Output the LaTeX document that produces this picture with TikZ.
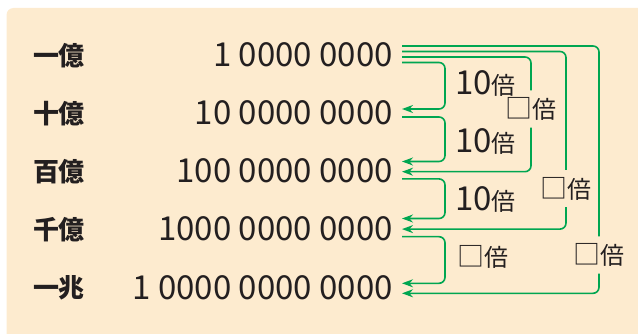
\documentclass[tikz,border=0pt]{standalone}
\usepackage{fontspec}
\newfontfamily\jp{Noto Sans CJK JP}
\usetikzlibrary{arrows.meta}
\definecolor{paper}{RGB}{253,235,207}
\definecolor{ink}{RGB}{35,31,32}
\definecolor{leaf}{RGB}{0,166,81}
% sizes of the parts of the ratio labels
\newcommand\tenpart[1]{{\fontsize{33}{33}\selectfont #1}}
\newcommand\baipart[1]{{\fontsize{24}{24}\selectfont #1}}
\newcommand\boxpart{{\fontsize{27}{27}\selectfont □}}
\begin{document}
\begin{tikzpicture}[x=1pt,y=-1pt,
  unit/.style={font=\jp\bfseries\fontsize{26}{26}\selectfont, text=ink, inner sep=0pt},
  num/.style={font=\jp\fontsize{33}{33}\selectfont, text=ink, inner sep=0pt, anchor=east},
  conn/.style={draw=leaf, line width=1.6pt, rounded corners=6pt},
  arr/.style={-{Stealth[length=11pt,width=8pt]}},
  ratio/.style={font=\jp, text=ink, inner sep=0pt},
  gapratio/.style={ratio, minimum height=37pt, minimum width=44pt}]
\clip (0,0) rectangle (638,334);
\fill[paper, rounded corners=7pt] (6.5,8) rectangle (700,400);

% place-value names
\node[unit] (u1) at (59,55.5)  {一億};
\node[unit] (u2) at (59,113.7) {十億};
\node[unit] (u3) at (59,171.9) {百億};
\node[unit] (u4) at (59,230.1) {千億};
\node[unit] (u5) at (59,288.3) {一兆};

% the numbers, right aligned
\node[num] (n1) at (393,54.5)  {1 0000 0000};
\node[num] (n2) at (393,112.7) {10 0000 0000};
\node[num] (n3) at (393,170.9) {100 0000 0000};
\node[num] (n4) at (393,229.1) {1000 0000 0000};
\node[num] (n5) at (393,287.3) {1 0000 0000 0000};

% ratio labels
\node[ratio, anchor=base west] (t1) at (455,95)  {\tenpart{10}\baipart{倍}};
\node[ratio, anchor=base west] (t2) at (455,153) {\tenpart{10}\baipart{倍}};
\node[ratio, anchor=base west] (t3) at (455,211) {\tenpart{10}\baipart{倍}};
\node[ratio] (t4) at (483,257) {\boxpart\baipart{倍}};
\node[gapratio] (q1) at (531,109)   {\boxpart\baipart{倍}};
\node[gapratio] (q2) at (566,188.5) {\boxpart\baipart{倍}};
\node[gapratio] (q3) at (599,255)   {\boxpart\baipart{倍}};

% step-by-step arrows
\draw[conn,arr] ([xshift=9pt,yshift=-8pt]n1.east) -- ++(43,0) |- ([xshift=9pt,yshift=3.7pt]n2.east);
\draw[conn,arr] ([xshift=9pt,yshift=-4.3pt]n2.east) -- ++(43,0) |- ([xshift=9pt,yshift=9.4pt]n3.east);
\draw[conn,arr] ([xshift=9pt,yshift=-8pt]n3.east) -- ++(43,0) |- ([xshift=9pt,yshift=10.6pt]n4.east);
\draw[conn,arr] ([xshift=9pt,yshift=-7.6pt]n4.east) -- ++(43,0) |- ([xshift=9pt,yshift=4pt]n5.east);

% arrows from one hundred million
\draw[conn] ([xshift=9pt,yshift=-2.5pt]n1.east) -| (q1.north);
\draw[conn,arr] (q1.south) |- ([xshift=9pt,yshift=-0.8pt]n3.east);
\draw[conn] ([xshift=9pt,yshift=3pt]n1.east) -| (q2.north);
\draw[conn,arr] (q2.south) |- ([xshift=9pt,yshift=0pt]n4.east);
\draw[conn] ([xshift=9pt,yshift=8.5pt]n1.east) -| (q3.north);
\draw[conn,arr] (q3.south) |- ([xshift=9pt,yshift=-6pt]n5.east);
\end{tikzpicture}
\end{document}
